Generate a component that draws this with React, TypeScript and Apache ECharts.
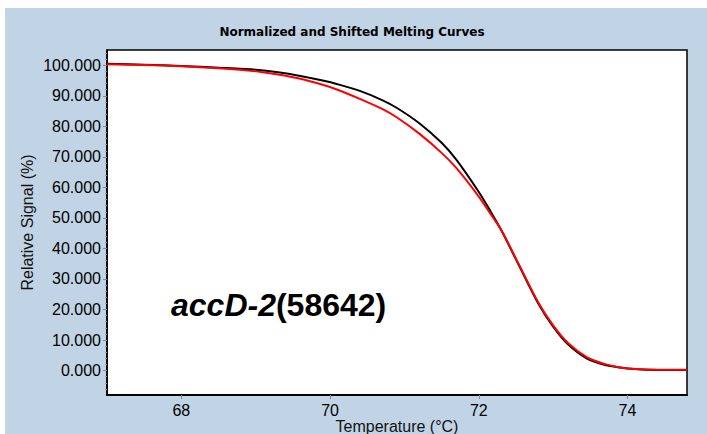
import React, { useEffect, useRef } from "react";
import * as echarts from "echarts";

const temps = [67.0, 67.5, 68.0, 68.5, 69.0, 69.3, 69.6, 69.9, 70.1, 70.4, 70.7, 70.9, 71.2, 71.5, 71.7, 72.0, 72.15, 72.3, 72.55, 72.8, 73.0, 73.2, 73.45, 73.7, 73.9, 74.1, 74.4, 74.8];
const blackVals = [100.5, 100.2, 99.8, 99.2, 98.5, 97.7, 96.5, 95.0, 93.8, 91.6, 88.6, 86.0, 81.0, 74.6, 69.0, 58.5, 52.5, 46.1, 34.0, 22.0, 14.4, 8.6, 4.0, 1.8, 1.0, 0.5, 0.2, 0.2];
const redVals = [100.3, 100.1, 99.7, 99.0, 98.0, 97.0, 95.6, 93.6, 92.0, 89.0, 85.7, 82.9, 77.6, 71.3, 66.3, 57.0, 51.6, 46.1, 34.2, 22.3, 14.8, 9.0, 4.4, 2.1, 1.0, 0.5, 0.3, 0.3];
const xTickValues = [68, 70, 72, 74];
const yLabelValues = [0, 10, 20, 30, 40, 50, 60, 70, 80, 90, 100];
const yMinorValues = [-6, -4, -2, 2, 4, 6, 8, 12, 14, 16, 18, 22, 24, 26, 28, 32, 34, 36, 38, 42, 44, 46, 48, 52, 54, 56, 58, 62, 64, 66, 68, 72, 74, 76, 78, 82, 84, 86, 88, 92, 94, 96, 98, 102, 104];
const titleText = "Normalized and Shifted Melting Curves";
const xName = "Temperature (°C)";
const yName = "Relative Signal (%)";
const geneItalic = "accD-2";
const geneId = "(58642)";

export default function App() {
  const ref = useRef<HTMLDivElement>(null);
  useEffect(() => {
    const chart = echarts.init(ref.current!, null, { renderer: "svg" });
    const font = "Arial, 'Liberation Sans', sans-serif";
    chart.setOption({
      animation: false,
      backgroundColor: "#c1d4e5",
      title: {
        text: titleText,
        left: 342,
        top: 13,
        textAlign: "center",
        textStyle: { fontSize: 12, fontWeight: "bold", color: "#000", fontFamily: "'DejaVu Sans', sans-serif" },
      },
      grid: {
        left: 102,
        top: 42,
        width: 580,
        height: 345,
        show: true,
        containLabel: false,
        outerBoundsMode: "none",
        backgroundColor: "#fff",
        borderColor: "#000",
        borderWidth: 1.5,
      },
      xAxis: {
        type: "value",
        min: 67,
        max: 74.8,
        name: xName,
        nameLocation: "middle",
        nameGap: 23,
        nameMoveOverlap: false,
        nameTextStyle: { fontSize: 16, color: "#111", fontFamily: font },
        axisLine: { onZero: false, lineStyle: { color: "#000", width: 2 } },
        axisTick: { customValues: xTickValues, length: 4, lineStyle: { color: "#888" } },
        axisLabel: {
          customValues: xTickValues,
          fontSize: 16,
          color: "#000",
          margin: 7,
          fontFamily: font,
        },
        splitLine: { show: false },
      },
      yAxis: [
        {
          type: "value",
          min: -8,
          max: 105,
          name: yName,
          nameLocation: "middle",
          nameGap: 72,
          nameMoveOverlap: false,
          nameTextStyle: { fontSize: 16, color: "#111", fontFamily: font },
          axisLine: { show: true, onZero: false, lineStyle: { color: "#000", width: 1.5 } },
          axisTick: { customValues: yLabelValues, length: 4, lineStyle: { color: "#888" } },
          axisLabel: {
            customValues: yLabelValues,
            formatter: (v: number) => v.toFixed(3),
            fontSize: 16,
            color: "#000",
            margin: 6,
            fontFamily: font,
          },
          splitLine: { show: false },
        },
        {
          type: "value",
          min: -8,
          max: 105,
          position: "left",
          axisLine: { show: false, onZero: false },
          axisTick: { customValues: yMinorValues, length: 2, lineStyle: { color: "#999" } },
          axisLabel: { show: false },
          splitLine: { show: false },
        },
      ],
      graphic: [
        {
          type: "text",
          x: 166,
          y: 297,
          style: {
            text: `{i|${geneItalic}}{n|${geneId}}`,
            verticalAlign: "middle",
            rich: {
              i: { fontStyle: "italic", fontWeight: "bold", fontSize: 32, fontFamily: font, fill: "#000" },
              n: { fontWeight: "bold", fontSize: 32, fontFamily: font, fill: "#000" },
            },
          },
          z: 100,
        },
      ],
      series: [
        {
          type: "line",
          yAxisIndex: 0,
          data: temps.map((t, i) => [t, blackVals[i]]),
          showSymbol: false,
          smooth: 0.3,
          lineStyle: { color: "#000", width: 2 },
          z: 2,
        },
        {
          type: "line",
          yAxisIndex: 0,
          data: temps.map((t, i) => [t, redVals[i]]),
          showSymbol: false,
          smooth: 0.3,
          lineStyle: { color: "#ff0000", width: 2 },
          z: 3,
        },
      ],
    });
    return () => chart.dispose();
  }, []);
  return (
    <div
      ref={ref}
      style={{ position: "fixed", left: 5, top: 8, width: 702, height: 426 }}
    />
  );
}
